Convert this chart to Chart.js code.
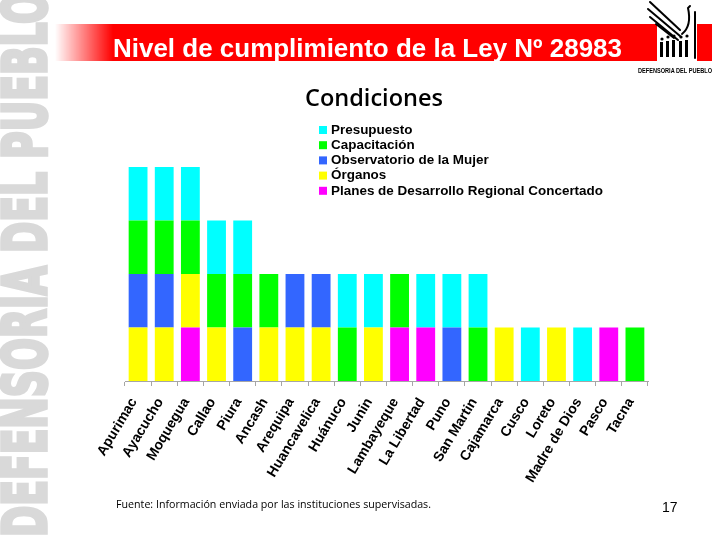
<!DOCTYPE html>
<html><head><meta charset="utf-8">
<script src="https://cdn.jsdelivr.net/npm/chart.js@4.4.0/dist/chart.umd.min.js"></script>
<style>
html,body{margin:0;padding:0;background:#fff;}
#page{position:relative;width:720px;height:540px;overflow:hidden;background:#fff;}
#bg,#chart{position:absolute;left:0;top:0;}
#bg{z-index:0;}
#chart{z-index:1;}
.txt{position:absolute;white-space:nowrap;line-height:1;transform-origin:0 0;z-index:3;}
#band{position:absolute;left:55px;top:24px;width:657px;height:37px;z-index:2;
  background:linear-gradient(to right, rgba(255,0,0,0) 0px, #ff0000 58px, #ff0000 100%);}
#logoWhite{position:absolute;left:657px;top:24px;width:40px;height:37px;background:#fff;z-index:2;}
#logo{position:absolute;left:640px;top:0;z-index:3;}
#title{left:113px;top:34px;color:#fff;font:bold 25px "Liberation Sans",Arial,sans-serif;}
#cond{top:80px;color:#000;font:600 24px "Open Sans",sans-serif;}
#foot{left:116px;top:496px;color:#000;font:11px "Open Sans",sans-serif;}
#pnum{left:662px;top:499px;color:#000;font:14px "Liberation Sans",Arial,sans-serif;}
#logotxt{left:638px;top:66px;color:#000;font:bold 8px "Liberation Sans",Arial,sans-serif;}
</style></head>
<body>
<div id="page">
  <canvas id="bg" width="720" height="540"></canvas>
  <div id="band"></div>
  <div id="logoWhite"></div>
  <svg id="logo" width="80" height="66" viewBox="0 0 80 66">
    <g stroke="#000" stroke-width="2" fill="none" stroke-linecap="round">
      <path d="M10 2 L40 30"/>
      <path d="M8 9 L40 36"/>
      <path d="M10 17 L38 40"/>
      <path d="M16 24 L34 38"/>
      <path d="M42 34 Q52 26 48 8 L50 6"/>
      <path d="M55 12 L55 58"/>
    </g>
    <g fill="#000">
      <circle cx="22" cy="39" r="1.6"/><circle cx="28" cy="37" r="1.6"/><circle cx="34" cy="36" r="1.6"/><circle cx="41" cy="37" r="1.6"/><circle cx="47" cy="36" r="1.6"/>
      <rect x="20" y="42" width="3" height="15"/><rect x="26" y="41" width="3" height="16"/><rect x="32" y="40" width="3" height="17"/><rect x="39" y="41" width="3" height="16"/><rect x="45" y="40" width="3" height="17"/>
    </g>
  </svg>
  <div id="title" class="txt">Nivel de cumplimiento de la Ley Nº 28983</div>
  <div id="logotxt" class="txt">DEFENSORIA DEL PUEBLO</div>
  <canvas id="chart" width="720" height="540"></canvas>
  <div id="cond" class="txt">Condiciones</div>
  <div id="foot" class="txt">Fuente: Información enviada por las instituciones supervisadas.</div>
  <div id="pnum" class="txt">17</div>
</div>
<script>
const categories = ['Apurimac','Ayacucho','Moquegua','Callao','Piura','Ancash','Arequipa','Huancavelica','Huánuco','Junin','Lambayeque','La Libertad','Puno','San Martin','Cajamarca','Cusco','Loreto','Madre de Dios','Pasco','Tacna'];
const seriesNames = ['Planes de Desarrollo Regional Concertado','Órganos','Observatorio de la Mujer','Capacitación','Presupuesto'];
const planes       = [0,0,1,0,0,0,0,0,0,0,1,1,0,0,0,0,0,0,1,0];
const organos      = [1,1,1,1,0,1,1,1,0,1,0,0,0,0,1,0,1,0,0,0];
const observatorio = [1,1,0,0,1,0,1,1,0,0,0,0,1,0,0,0,0,0,0,0];
const capacitacion = [1,1,1,1,1,1,0,0,1,0,1,0,0,1,0,0,0,0,0,1];
const presupuesto  = [1,1,1,1,1,0,0,0,1,1,0,1,1,1,0,1,0,1,0,0];
const seriesColors = ['#ff00ff','#ffff00','#3366ff','#00ff00','#00ffff'];

function fitWidth(id, w){
  const el=document.getElementById(id);
  const nat=el.getBoundingClientRect().width;
  el.style.transform='scaleX('+(w/nat)+')';
}
fitWidth('title',509);
fitWidth('foot',315);
fitWidth('logotxt',74);
fitWidth('cond',138);
document.getElementById('cond').style.left='305px';

(function(){
  const c=document.getElementById('bg'), ctx=c.getContext('2d');
  ctx.save();
  ctx.font='bold 60px "DejaVu Sans Condensed","Liberation Sans Narrow",sans-serif';
  const t='DEFENSORIA DEL PUEBLO';
  const w=ctx.measureText(t).width;
  ctx.translate(46,537);
  ctx.rotate(-Math.PI/2);
  ctx.scale(545/w,1);
  ctx.fillStyle='#d9d9d9';
  ctx.strokeStyle='#d9d9d9';
  ctx.lineWidth=3.5;
  ctx.lineJoin='miter';
  ctx.textBaseline='alphabetic';
  ctx.fillText(t,0,0);
  ctx.strokeText(t,0,0);
  ctx.restore();
})();

const legendPlugin={
  id:'customLegend',
  afterDraw(chart){
    const ctx=chart.ctx; ctx.save();
    ctx.font='bold 13.5px "Liberation Sans", Arial, sans-serif';
    const ds=chart.data.datasets.slice().reverse();
    const longest=Math.max(...ds.map(d=>ctx.measureText(d.label).width));
    const sx=272/longest;
    ds.forEach((d,i)=>{
      const y=130+i*15.2;
      ctx.fillStyle=d.backgroundColor;
      ctx.fillRect(319,y-4,8,8);
      ctx.save();
      ctx.translate(331,y);
      ctx.scale(sx,1);
      ctx.fillStyle='#000';
      ctx.textBaseline='middle';
      ctx.fillText(d.label,0,0);
      ctx.restore();
    });
    ctx.restore();
  }
};

const seriesData=[planes,organos,observatorio,capacitacion,presupuesto];
new Chart(document.getElementById('chart'),{
  type:'bar',
  data:{
    labels:categories,
    datasets:seriesData.map((d,i)=>({label:seriesNames[i],data:d,backgroundColor:seriesColors[i],borderWidth:0,categoryPercentage:0.8,barPercentage:0.9}))
  },
  options:{
    responsive:false,animation:false,
    layout:{padding:{left:125,right:72,top:113.5,bottom:49}},
    plugins:{legend:{display:false},tooltip:{enabled:false},title:{display:false}},
    scales:{
      x:{stacked:true,
        grid:{display:true,drawOnChartArea:false,drawTicks:true,tickLength:5,color:'#a6a6a6',offset:true},
        border:{display:true,color:'#a6a6a6'},
        ticks:{color:'#000',font:{family:'"Liberation Sans", Arial, sans-serif',size:14,weight:'bold'},minRotation:59,maxRotation:59,autoSkip:false,padding:9,labelOffset:-4},
        afterFit(s){s.height=110;}
      },
      y:{stacked:true,display:false,min:0,max:5}
    }
  },
  plugins:[legendPlugin]
});
</script>
</body></html>
